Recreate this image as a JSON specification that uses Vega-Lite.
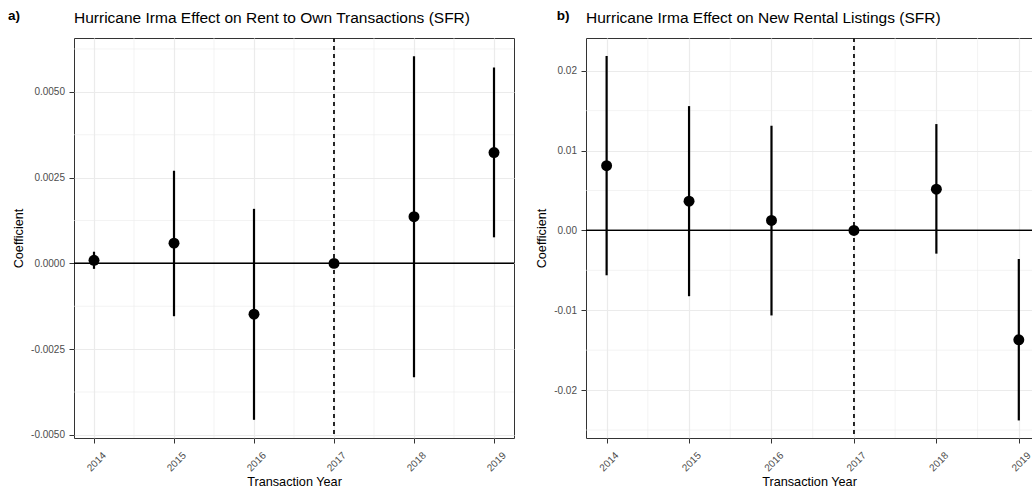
{
  "$schema": "https://vega.github.io/schema/vega-lite/v6.json",
  "padding": {"left": 7, "top": 8, "right": 0, "bottom": 0},
  "bounds": "flush",
  "spacing": 72,
  "datasets": {
    "rto": [
      {"year": 2014, "coef": 0.00009, "lo": -0.00016, "hi": 0.00034},
      {"year": 2015, "coef": 0.00059, "lo": -0.00154, "hi": 0.0027},
      {"year": 2016, "coef": -0.00148, "lo": -0.00456, "hi": 0.00159},
      {"year": 2017, "coef": 0.0, "lo": 0.0, "hi": 0.0},
      {"year": 2018, "coef": 0.00136, "lo": -0.00332, "hi": 0.00604},
      {"year": 2019, "coef": 0.00323, "lo": 0.00076, "hi": 0.00571}
    ],
    "rent": [
      {"year": 2014, "coef": 0.0081, "lo": -0.00562, "hi": 0.02185},
      {"year": 2015, "coef": 0.00366, "lo": -0.00824, "hi": 0.01557},
      {"year": 2016, "coef": 0.00125, "lo": -0.01065, "hi": 0.01311},
      {"year": 2017, "coef": 0.0, "lo": 0.0, "hi": 0.0},
      {"year": 2018, "coef": 0.00516, "lo": -0.00291, "hi": 0.01332},
      {"year": 2019, "coef": -0.0137, "lo": -0.0238, "hi": -0.00358}
    ],
    "xminor": [{"v": 2014.5}, {"v": 2015.5}, {"v": 2016.5}, {"v": 2017.5}, {"v": 2018.5}],
    "yminorA": [{"v": -0.00375}, {"v": -0.00125}, {"v": 0.00125}, {"v": 0.00375}, {"v": 0.00625}],
    "yminorB": [{"v": -0.025}, {"v": -0.015}, {"v": -0.005}, {"v": 0.005}, {"v": 0.015}],
    "tagA": [{"label": "a)"}],
    "tagB": [{"label": "b)"}]
  },
  "hconcat": [
    {
      "width": 440,
      "height": 400,
      "title": {"text": "Hurricane Irma Effect on Rent to Own Transactions (SFR)", "anchor": "start", "frame": "group", "baseline": "alphabetic", "offset": -29, "fontSize": 15.5, "fontWeight": "normal", "color": "#000000", "font": "Liberation Sans"},
      "layer": [
        {"data": {"name": "xminor"}, "mark": {"type": "rule", "color": "#ebebeb", "strokeWidth": 0.6},
          "encoding": {"x": {"field": "v", "type": "quantitative", "scale": {"domain": [2013.75, 2019.25], "nice": false, "zero": false},
            "axis": {"title": "Transaction Year", "values": [2014, 2015, 2016, 2017, 2018, 2019], "format": "d"}}}},
        {"data": {"name": "yminorA"}, "mark": {"type": "rule", "color": "#ebebeb", "strokeWidth": 0.6},
          "encoding": {"y": {"field": "v", "type": "quantitative", "scale": {"domain": [-0.00509, 0.00657], "nice": false, "zero": false},
            "axis": {"title": "Coefficient", "values": [-0.005, -0.0025, 0, 0.0025, 0.005], "format": ".4f"}}}},
        {"data": {"name": "rto"}, "mark": {"type": "rule", "color": "#000000", "strokeWidth": 2.2},
          "encoding": {"x": {"field": "year", "type": "quantitative"}, "y": {"field": "lo", "type": "quantitative"}, "y2": {"field": "hi"}}},
        {"data": {"name": "rto"}, "mark": {"type": "rule", "color": "#000000", "strokeWidth": 1},
          "encoding": {"y": {"datum": 0, "type": "quantitative"}}},
        {"data": {"name": "rto"}, "mark": {"type": "rule", "color": "#222222", "strokeWidth": 1, "strokeDash": [4, 4]},
          "encoding": {"x": {"datum": 2017, "type": "quantitative"}}},
        {"data": {"name": "rto"}, "mark": {"type": "circle", "size": 120, "color": "#000000", "opacity": 1},
          "encoding": {"x": {"field": "year", "type": "quantitative"}, "y": {"field": "coef", "type": "quantitative"}}},
        {"data": {"name": "tagA"}, "mark": {"type": "text", "align": "left", "baseline": "alphabetic", "fontSize": 13.5, "fontWeight": "bold", "font": "Liberation Sans", "color": "#000000"},
          "encoding": {"x": {"datum": 2012.925, "type": "quantitative"}, "y": {"datum": 0.007086, "type": "quantitative"}, "text": {"field": "label", "type": "nominal"}}}
      ]
    },
    {
      "width": 446,
      "height": 400,
      "title": {"text": "Hurricane Irma Effect on New Rental Listings (SFR)", "anchor": "start", "frame": "group", "baseline": "alphabetic", "offset": -29, "fontSize": 15.5, "fontWeight": "normal", "color": "#000000", "font": "Liberation Sans"},
      "layer": [
        {"data": {"name": "xminor"}, "mark": {"type": "rule", "color": "#ebebeb", "strokeWidth": 0.6},
          "encoding": {"x": {"field": "v", "type": "quantitative", "scale": {"domain": [2013.75, 2019.16], "nice": false, "zero": false},
            "axis": {"title": "Transaction Year", "values": [2014, 2015, 2016, 2017, 2018, 2019], "format": "d"}}}},
        {"data": {"name": "yminorB"}, "mark": {"type": "rule", "color": "#ebebeb", "strokeWidth": 0.6},
          "encoding": {"y": {"field": "v", "type": "quantitative", "scale": {"domain": [-0.026, 0.0241], "nice": false, "zero": false},
            "axis": {"title": "Coefficient", "values": [-0.02, -0.01, 0, 0.01, 0.02], "format": ".2f"}}}},
        {"data": {"name": "rent"}, "mark": {"type": "rule", "color": "#000000", "strokeWidth": 2.2},
          "encoding": {"x": {"field": "year", "type": "quantitative"}, "y": {"field": "lo", "type": "quantitative"}, "y2": {"field": "hi"}}},
        {"data": {"name": "rent"}, "mark": {"type": "rule", "color": "#000000", "strokeWidth": 1},
          "encoding": {"y": {"datum": 0, "type": "quantitative"}}},
        {"data": {"name": "rent"}, "mark": {"type": "rule", "color": "#222222", "strokeWidth": 1, "strokeDash": [4, 4]},
          "encoding": {"x": {"datum": 2017, "type": "quantitative"}}},
        {"data": {"name": "rent"}, "mark": {"type": "circle", "size": 120, "color": "#000000", "opacity": 1},
          "encoding": {"x": {"field": "year", "type": "quantitative"}, "y": {"field": "coef", "type": "quantitative"}}},
        {"data": {"name": "tagB"}, "mark": {"type": "text", "align": "left", "baseline": "alphabetic", "fontSize": 13.5, "fontWeight": "bold", "font": "Liberation Sans", "color": "#000000"},
          "encoding": {"x": {"datum": 2013.395, "type": "quantitative"}, "y": {"datum": 0.02632, "type": "quantitative"}, "text": {"field": "label", "type": "nominal"}}}
      ]
    }
  ],
  "config": {
    "font": "Liberation Sans",
    "locale": {"number": {"decimal": ".", "thousands": ",", "grouping": [3], "currency": ["$", ""], "minus": "-"}},
    "view": {"stroke": "#333333", "strokeWidth": 1},
    "axis": {
      "domain": false,
      "grid": true,
      "gridColor": "#ebebeb",
      "gridWidth": 1.2,
      "tickColor": "#333333",
      "tickSize": 5,
      "tickWidth": 1,
      "labelColor": "#4d4d4d",
      "labelFontSize": 10,
      "labelFont": "Liberation Sans",
      "titleFont": "Liberation Sans",
      "titleFontSize": 12.7,
      "titleFontWeight": "normal",
      "titleColor": "#000000"
    },
    "axisX": {"labelAngle": 315, "labelAlign": "right", "labelBaseline": "top", "labelOffset": 6.5, "labelPadding": 7, "titlePadding": 3},
    "axisY": {"labelPadding": 4.5, "titlePadding": 5}
  }
}
